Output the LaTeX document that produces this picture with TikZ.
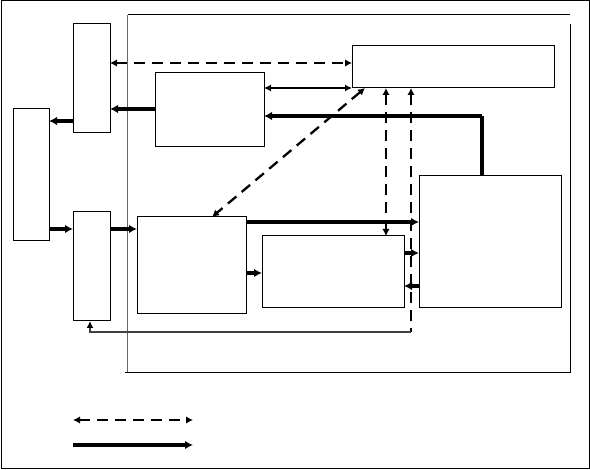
\documentclass[tikz,border=0pt]{standalone}
\usetikzlibrary{arrows.meta}
\begin{document}
\begin{tikzpicture}[x=1pt,y=-1pt,
  box/.style={draw,line width=1pt,inner sep=0pt,outer sep=0pt},
  thickarr/.style={line width=3.2pt,-{Latex[length=8pt,width=8.5pt]}},
  thickline/.style={line width=3.2pt},
  dasharr/.style={line width=2.3pt,dash pattern=on 11pt off 7pt,{Latex[length=7pt,width=7.5pt]}-{Latex[length=7pt,width=7.5pt]}},
  dashline/.style={line width=2.3pt,dash pattern=on 11pt off 7pt},
  thinarr/.style={line width=1.6pt,{Latex[length=7pt,width=7pt]}-{Latex[length=7pt,width=7pt]}},
  fbline/.style={line width=1.5pt,draw=black!75}
]
\useasboundingbox (0,0) rectangle (590,470);
\newcommand{\bx}[5]{\node[box,minimum width={#4-#2},minimum height={#5-#3}] (#1) at ({(#2+#4)/2},{(#3+#5)/2}) {};}
% outer border
\draw[line width=1pt] (1,0.5) rectangle (589,469);
% inner frame
\draw[line width=1pt] (128,15) -- (570,15);
\draw[line width=1pt,draw=black!60] (127,15) -- (127,373);
\draw[line width=1pt] (125,373) -- (570,373) -- (570,24);
% boxes
\bx{A}{13}{109}{49}{241}
\bx{B}{73}{24}{110}{133}
\bx{C}{73}{212}{110}{321}
\bx{D}{155}{73}{264}{147}
\bx{E}{352}{46}{554}{88}
\bx{F}{137}{217}{246}{314}
\bx{G}{262}{236}{404}{308}
\bx{H}{419}{176}{561}{308}
% coordinates
\coordinate (fb1) at (411,332);
\coordinate (fb2) at (90,332);
\coordinate (h1) at (482,116);
% connectors
\draw[dasharr] (B.east |- 0,63) -- (E.west |- 0,63);
\draw[thinarr] (D.east |- 0,88) -- (E.south west);
\draw[thickarr] (D.west |- 0,109) -- (B.east |- 0,109);
\draw[thickarr] (B.west |- 0,121) -- (A.east |- 0,121);
\draw[thickline] (H.north -| h1) -- (h1);
\draw[thickarr] (h1) -- (D.east |- 0,116);
\draw[dasharr] (E.south -| 365,0) -- (F.north -| 212,0);
\draw[dasharr] (E.south -| 386,0) -- (G.north -| 386,0);
\draw[dashline,{Latex[length=7pt,width=7.5pt]}-] (E.south -| fb1) -- (fb1);
\draw[fbline,-{Latex[length=7pt,width=7pt,fill=black,color=black]}] (fb1) -- (fb2) -- (C.south -| fb2);
\draw[thickarr] (A.east |- 0,229) -- (C.west |- 0,229);
\draw[thickarr] (C.east |- 0,229) -- (F.west |- 0,229);
\draw[thickarr] (F.east |- 0,222) -- (H.west |- 0,222);
\draw[thickarr] (F.east |- 0,273) -- (G.west |- 0,273);
\draw[thickarr] (G.east |- 0,253) -- (H.west |- 0,253);
\draw[thickarr] (H.west |- 0,286) -- (G.east |- 0,286);
% legend
\coordinate (l1a) at (73,420); \coordinate (l1b) at (193,420);
\coordinate (l2a) at (73,445); \coordinate (l2b) at (193,445);
\draw[dasharr] (l1a) -- (l1b);
\draw[thickarr] (l2a) -- (l2b);
\end{tikzpicture}
\end{document}
